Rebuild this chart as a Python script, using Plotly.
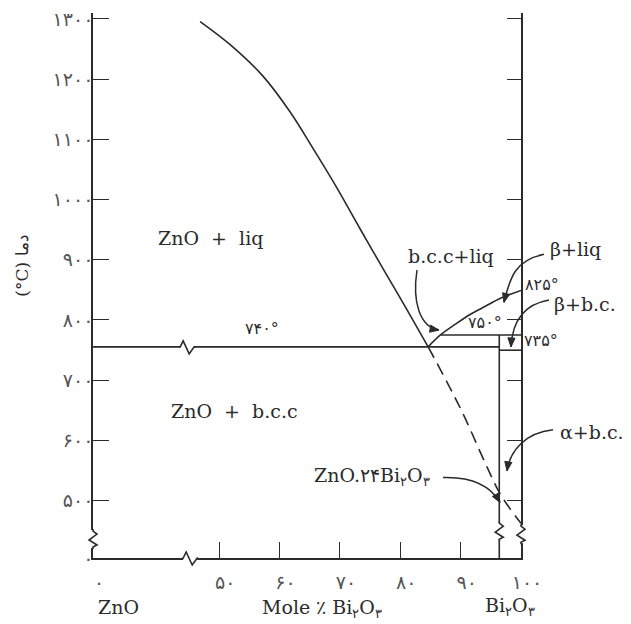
import plotly.graph_objects as go
import math

# ---------------- data: mole % Bi2O3 (x) and temperature °C (y) ----------------
X_ZERO = 29.1      # axis position standing for 0 % (broken axis)
T_ZERO = 404.5     # axis position standing for 0 °C (broken axis)
X_END = 100.0
T_TOP = 1309.8

x_tick_vals = [X_ZERO, 50, 60, 70, 80, 90, 100]
x_tick_text = ["۰", "۵۰", "۶۰", "۷۰", "۸۰", "۹۰", "۱۰۰"]
y_tick_vals = [T_ZERO, 500, 600, 700, 800, 900, 1000, 1100, 1200, 1300]
y_tick_text = ["۰", "۵۰۰", "۶۰۰", "۷۰۰", "۸۰۰", "۹۰۰", "۱۰۰۰", "۱۱۰۰", "۱۲۰۰", "۱۳۰۰"]
right_tick_vals = [500, 600, 700, 800, 900, 1000, 1100, 1200, 1300]

# ZnO liquidus
zno_liq_x = [46.85, 51.82, 57.29, 61.76, 65.57, 69.55, 73.36, 77.33, 80.98, 84.62]
zno_liq_t = [1295.6, 1257.2, 1204.5, 1145.3, 1084.4, 1018.5, 951.0, 881.9, 819.3, 755.2]
# liquidus on the Bi2O3-rich side (b.c.c + liq, beta + liq)
bi_liq_x = [84.62, 86.65, 89.14, 91.63, 94.11, 96.6, 100]
bi_liq_t = [755.2, 775, 793, 809.5, 822.6, 835.8, 849]
# metastable extension of the ZnO liquidus (dashed)
meta_x = [84.62, 89.97, 94.4, 96.6, 100]
meta_t = [755.2, 653, 555, 510, 462]

eutectic_t = 755.2      # drawn line labelled ۷۴۰°
peritectic_t = 775      # labelled ۷۵۰°
peritectic_x0 = 86.65
eutectoid_t = 749.7     # labelled ۷۳۵°
compound_x = 96.4       # ZnO.24Bi2O3

# axis / line break positions
x_axis_break = 45.2
eut_line_break = 44.7
left_axis_break_t = 436
compound_break_t = 449
right_axis_break_t = 444

LINE = "#2b2b2b"
TXT = "#2b2b2b"
SERIF = "DejaVu Serif"
SANS = "DejaVu Sans"

# canvas geometry (page has an 8px body margin)
OFF = 8
W, H = 623, 616
ML, MR, MT, MB = 85, 110, 0, 66
PW, PH = W - ML - MR, H - MT - MB


def paper(px, py):
    fx, fy = px - OFF, py - OFF
    return (fx - ML) / PW, (H - MB - fy) / PH


fig = go.Figure()

def line(x, y, dash=None, shape="linear", yaxis="y"):
    fig.add_trace(go.Scatter(x=x, y=y, mode="lines", yaxis=yaxis, hoverinfo="skip",
                             line=dict(color=LINE, width=1.6, dash=dash, shape=shape,
                                       smoothing=1.0)))

line(zno_liq_x, zno_liq_t, shape="spline")
line(bi_liq_x, bi_liq_t, shape="spline")
line(meta_x, meta_t, dash="12px,7px", shape="spline")
line([X_ZERO, compound_x], [eutectic_t, eutectic_t])
line([peritectic_x0, X_END], [peritectic_t, peritectic_t])
line([compound_x, X_END], [eutectoid_t, eutectoid_t])
line([compound_x, compound_x], [peritectic_t, T_ZERO], yaxis="y2")

shapes = []

def brk(xref, xanchor, yref, yanchor, vertical):
    if vertical:
        rect = dict(x0=-3, x1=3, y0=-9, y1=9)
        path = "M0,10 L0,8 L4,5 L-4,-1 L4,-6 L0,-8 L0,-10"
    else:
        rect = dict(x0=-7, x1=7, y0=-2.5, y1=2.5)
        path = "M-8,0 L-7,0 L-4,6 L2,-7 L7,0 L8,0"
    base = dict(xref=xref, yref=yref, xsizemode="pixel", ysizemode="pixel",
                xanchor=xanchor, yanchor=yanchor, layer="above")
    shapes.append(dict(type="rect", fillcolor="white", line=dict(width=0), **rect, **base))
    shapes.append(dict(type="path", path=path, line=dict(color=LINE, width=1.6), **base))

brk("x", x_axis_break, "paper", 0, False)
brk("x", eut_line_break, "y", eutectic_t, False)
brk("paper", 0, "y", left_axis_break_t, True)
brk("x", compound_x, "y", compound_break_t, True)
brk("paper", 1, "y", right_axis_break_t, True)

# curved arrows, page pixel points: tail, control1, control2, tip
arrows_px = [
    [(417, 268), (412, 300), (420, 325), (439, 328)],   # b.c.c+liq
    [(544, 252), (515, 258), (510, 275), (504, 300)],   # beta+liq
    [(549, 298), (520, 303), (512, 325), (511, 345)],   # beta+b.c.
    [(553, 429), (525, 432), (510, 450), (507, 470)],   # alpha+b.c.
    [(443, 477), (475, 476), (492, 488), (500, 502)],   # ZnO.24Bi2O3
]
for pts in arrows_px:
    tx, ty = pts[-1]
    off = [(px - tx, ty - py) for px, py in pts]
    path = "M{},{} C{},{} {},{} {},{}".format(*[v for p in off for v in p])
    ax_, ay_ = paper(tx, ty)
    base = dict(xref="paper", yref="paper", xsizemode="pixel", ysizemode="pixel",
                xanchor=ax_, yanchor=ay_, layer="above")
    shapes.append(dict(type="path", path=path, line=dict(color=LINE, width=1.5), **base))
    dx, dy = off[-1][0] - off[-2][0], off[-1][1] - off[-2][1]
    n = math.hypot(dx, dy)
    ux, uy = dx / n, dy / n
    L, Wd = 9, 3.6
    bx, by = -ux * L, -uy * L
    p1 = (bx - uy * Wd, by + ux * Wd)
    p2 = (bx + uy * Wd, by - ux * Wd)
    head = "M0,0 L{:.2f},{:.2f} L{:.2f},{:.2f} Z".format(p1[0], p1[1], p2[0], p2[1])
    shapes.append(dict(type="path", path=head, fillcolor=LINE, line=dict(color=LINE, width=1), **base))

annotations = []

def label(text, px, py, size=19, family=SERIF, angle=0, color=TXT):
    x, y = paper(px, py)
    annotations.append(dict(text=text, x=x, y=y, xref="paper", yref="paper", showarrow=False,
                            xanchor="center", yanchor="middle", textangle=angle,
                            font=dict(family=family, size=size, color=color)))

NB = "\u00a0"
DEG = 16
label("ZnO" + NB * 2 + "+" + NB * 2 + "liq", 210, 235)
label("ZnO" + NB * 2 + "+" + NB * 2 + "b.c.c", 234, 410)
label("۷۴۰°", 262, 326, size=DEG, family=SANS)
label("b.c.c+liq", 451, 253)
label("β+liq", 575, 246)
label("۸۲۵°", 542, 282, size=DEG, family=SANS)
label("β+b.c.", 585, 302)
label("۷۵۰°", 485, 320, size=DEG, family=SANS)
label("۷۳۵°", 541, 338, size=DEG, family=SANS)
label("α+b.c.", 592, 431)
label("ZnO.۲۴Bi<sub>۲</sub>O<sub>۳</sub>", 372, 476)
label("ZnO", 118, 607)
label("Mole ٪ Bi<sub>۲</sub>O<sub>۳</sub>", 322, 609)
label("Bi<sub>۲</sub>O<sub>۳</sub>", 510, 607)
label("(°C) دما", 22, 263, size=17, angle=-90)

tickfont = dict(family=SANS, size=19, color="#555")
fig.update_layout(
    width=W, height=H, autosize=False,
    margin=dict(l=ML, r=MR, t=MT, b=MB, pad=0),
    plot_bgcolor="white", paper_bgcolor="white", showlegend=False,
    xaxis=dict(range=[X_ZERO, X_END], showline=True, linecolor=LINE, linewidth=1.6,
               ticks="inside", ticklen=16, tickwidth=1.4, tickcolor=LINE,
               tickvals=x_tick_vals, ticktext=x_tick_text, tickfont=tickfont,
               showgrid=False, zeroline=False, ticklabelstandoff=6, ticklabelshift=6,
               ticklabeloverflow="allow"),
    yaxis=dict(range=[T_ZERO, T_TOP], showline=True, linecolor=LINE, linewidth=1.6,
               ticks="inside", ticklen=16, tickwidth=1.4, tickcolor=LINE,
               tickvals=y_tick_vals, ticktext=y_tick_text, tickfont=tickfont,
               showgrid=False, zeroline=False, ticklabelstandoff=-6,
               ticklabeloverflow="allow"),
    yaxis2=dict(range=[T_ZERO, T_TOP], overlaying="y", side="right", anchor="x",
                showline=True, linecolor=LINE, linewidth=1.6,
                ticks="inside", ticklen=14, tickwidth=1.4, tickcolor=LINE,
                tickvals=right_tick_vals, showticklabels=False,
                showgrid=False, zeroline=False),
    shapes=shapes, annotations=annotations,
)

fig.write_html("out.html")
